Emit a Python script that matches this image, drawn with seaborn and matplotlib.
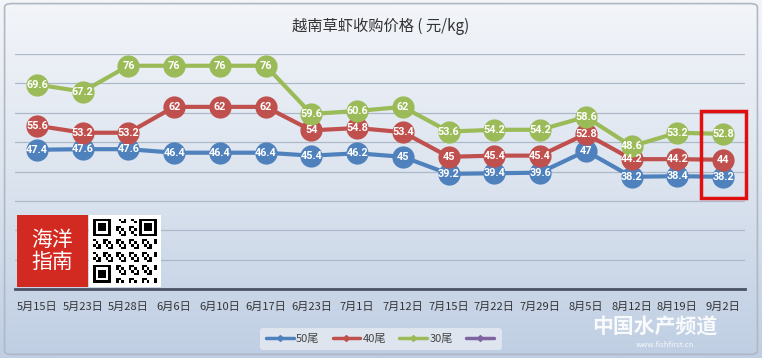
import numpy as np
import pandas as pd
import matplotlib.pyplot as plt
import seaborn as sns
from matplotlib.lines import Line2D
from matplotlib.patches import Rectangle, FancyBboxPatch
from matplotlib.colors import LinearSegmentedColormap

dates = ["5月15日", "5月23日", "5月28日", "6月6日", "6月10日", "6月17日", "6月23日", "7月1日",
         "7月12日", "7月15日", "7月22日", "7月29日", "8月5日", "8月12日", "8月19日", "9月2日"]
tail50 = [47.4, 47.6, 47.6, 46.4, 46.4, 46.4, 45.4, 46.2, 45, 39.2, 39.4, 39.6, 47, 38.2, 38.4, 38.2]
tail40 = [55.6, 53.2, 53.2, 62, 62, 62, 54, 54.8, 53.4, 45, 45.4, 45.4, 52.8, 44.2, 44.2, 44]
tail30 = [69.6, 67.2, 76, 76, 76, 76, 59.6, 60.6, 62, 53.6, 54.2, 54.2, 58.6, 48.6, 53.2, 52.8]
series = ["50尾", "40尾", "30尾"]
colors = {"50尾": "#4f81bd", "40尾": "#c0504d", "30尾": "#9bbb59"}

df = pd.DataFrame({
    "date": dates * 3,
    "x": list(range(len(dates))) * 3,
    "price": tail50 + tail40 + tail30,
    "size": np.repeat(series, len(dates)),
})

sns.set_theme(style="white")
plt.rcParams["font.family"] = ["Noto Sans CJK SC", "DejaVu Sans"]

fig = plt.figure(figsize=(7.62, 3.58), dpi=100)

# gradient background
bg = fig.add_axes([0, 0, 1, 1], zorder=-10)
grad = np.linspace(0, 1, 256).reshape(-1, 1)
cmap = LinearSegmentedColormap.from_list("bg", ["#f3f5f9", "#dce4ef", "#bfcee3"])
bg.imshow(grad, aspect="auto", cmap=cmap, extent=[0, 1, 0, 1], origin="upper")
bg.add_patch(FancyBboxPatch((0.006, 0.01), 0.988, 0.98, boxstyle="round,pad=0,rounding_size=0.01",
                            fill=False, edgecolor="#b0b8c4", linewidth=1.2, transform=bg.transAxes))
bg.set_axis_off()

ax = fig.add_axes([15 / 762, 1 - 289 / 358, 730 / 762, 235 / 358])
ax.patch.set_alpha(0)
sns.lineplot(data=df, x="x", y="price", hue="size", palette=colors, ax=ax,
             marker="o", markersize=16, linewidth=3, markeredgewidth=0, legend=False)

for s, vals in zip(series, [tail50, tail40, tail30]):
    for i, v in enumerate(vals):
        ax.text(i, v, f"{v:g}", ha="center", va="center", color="white", fontsize=7.8,
                fontweight="bold", family="Roboto", zorder=5)

ax.set_xlim(-0.48, 15.48)
ax.set_ylim(0, 80)
ax.set_yticks(range(0, 81, 10))
ax.yaxis.grid(True, color="#adb8c8", linewidth=0.9)
ax.set_yticklabels([])
ax.tick_params(axis="y", length=0)
ax.set_xticks(range(len(dates)))
ax.set_xticklabels(dates, fontsize=8, color="#333333")
ax.tick_params(axis="x", length=0, pad=9)
ax.set_xlabel("")
ax.set_ylabel("")
for sp in ["top", "left", "right"]:
    ax.spines[sp].set_visible(False)
ax.spines["bottom"].set_color("#4a5263")
ax.spines["bottom"].set_linewidth(2)

# red highlight box around last point
ax.add_patch(Rectangle((14.52, 31), 0.98, 29.5, fill=False, edgecolor="#e01010",
                       linewidth=2.5, zorder=6, clip_on=False))

fig.text(0.5, 0.925, "越南草虾收购价格 ( 元/kg)", ha="center", va="center", fontsize=11, color="#333333")

# logo + QR placeholder
fig.patches.append(Rectangle((17 / 762, 1 - 287 / 358), 71 / 762, 72 / 358, transform=fig.transFigure,
                             facecolor="#d22a20", edgecolor="none", zorder=3))
fig.text(52 / 762, 1 - 251 / 358, "海洋\n指南", ha="center", va="center", color="white",
         fontsize=15, linespacing=1.0, zorder=4)
fig.patches.append(Rectangle((89 / 762, 1 - 287 / 358), 72 / 762, 72 / 358, transform=fig.transFigure,
                             facecolor="white", edgecolor="none", zorder=3))
n = 25
ii, jj = np.mgrid[0:n, 0:n]
code = ((ii * 7 + jj * 13 + ii * jj) % 5 < 2).astype(float)
for r0, c0 in [(0, 0), (0, n - 7), (n - 7, 0)]:
    block = np.zeros((7, 7))
    block[0, :] = block[-1, :] = block[:, 0] = block[:, -1] = 1
    block[2:5, 2:5] = 1
    code[r0:r0 + 7, c0:c0 + 7] = block
    if r0 == 0:
        code[7, max(c0 - 1, 0):c0 + 8] = 0
    else:
        code[r0 - 1, 0:8] = 0
    if c0 == 0:
        code[r0:r0 + 8, 7] = 0
    else:
        code[0:8, c0 - 1] = 0
qr = fig.add_axes([93 / 762, 1 - 283 / 358, 64 / 762, 64 / 358], zorder=4)
qr.imshow(code, cmap="Greys", interpolation="nearest")
qr.set_axis_off()

# legend
handles = [Line2D([0], [0], color=colors[s], marker="D", markersize=3, linewidth=2.5) for s in series]
handles.append(Line2D([0], [0], color="#8064a2", marker="D", markersize=3, linewidth=2.5))
leg = fig.legend(handles, series + [""], loc="center", bbox_to_anchor=(381 / 762, 1 - 339 / 358),
                 ncol=4, frameon=True, fontsize=8, handlelength=2.5, handletextpad=0.2,
                 columnspacing=1.2, borderpad=0.5)
leg.get_frame().set_facecolor("#e2e8f1")
leg.get_frame().set_edgecolor("none")
leg.get_frame().set_alpha(0.9)
for t in leg.get_texts():
    t.set_color("#444444")

# watermark
fig.text(655 / 762, 1 - 327 / 358, "中国水产频道", ha="center", va="center", color="white",
         fontsize=15, fontweight="bold", alpha=0.9)
fig.text(665 / 762, 1 - 345 / 358, "www.fishfirst.cn", ha="center", va="center", color="white",
         fontsize=5.5, alpha=0.9)

fig.savefig("out.png", dpi=100)
